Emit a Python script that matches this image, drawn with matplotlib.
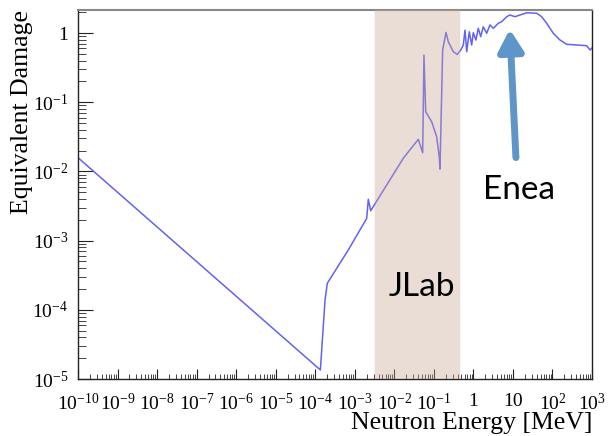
import numpy as np
import matplotlib
matplotlib.use('Agg')
import matplotlib.pyplot as plt
from matplotlib.ticker import LogLocator, FuncFormatter, NullFormatter

energy = [1e-10, 1.35e-4, 1.77e-4, 2.02e-4, 6.85e-4, 2.0e-3, 2.20e-3, 2.53e-3,
          1.69e-2, 4.05e-2, 5.22e-2, 5.62e-2, 6.22e-2, 8.81e-2, 0.118, 0.137,
          0.143, 0.167, 0.203, 0.232, 0.310, 0.392, 0.479, 0.556, 0.614, 0.678,
          0.787, 0.906, 0.993, 1.16, 1.33, 1.53, 1.78, 2.17, 2.63, 3.18, 4.27,
          5.20, 6.95, 8.43, 11.3, 15.1, 22.3, 39.9, 53.3, 71.4, 105, 155, 229,
          410, 733, 889, 1000]
damage = [1.58e-2, 1.35e-5, 1.39e-4, 2.42e-4, 7.31e-4, 2.09e-3, 3.95e-3, 2.70e-3,
          1.55e-2, 2.91e-2, 1.86e-2, 0.48, 7.29e-2, 5.22e-2, 3.17e-2, 1.63e-2,
          1.08e-2, 0.568, 1.02, 0.748, 0.537, 0.490, 0.568, 0.671, 1.10, 0.537,
          1.04, 0.671, 1.01, 0.792, 1.17, 0.885, 1.23, 0.991, 1.31, 1.17, 1.38,
          1.46, 1.72, 1.82, 1.72, 1.82, 1.96, 1.93, 1.72, 1.38, 0.991, 0.792, 0.687,
          0.671, 0.656, 0.568, 0.607]

jlab_range = (3.2e-3, 0.45)
band_labels = ['JLab', 'Enea']

serif = 'Liberation Serif'
plt.rcParams['font.family'] = serif
plt.rcParams['mathtext.fontset'] = 'custom'
plt.rcParams['mathtext.rm'] = serif
plt.rcParams['mathtext.it'] = serif + ':italic'
plt.rcParams['mathtext.default'] = 'rm'

fig = plt.figure(figsize=(6.09, 4.36), dpi=100)
ax = fig.add_axes([78 / 609, 1 - 379 / 436, 514 / 609, 369 / 436])

ax.plot(energy, damage, color='#6262f6', lw=1.1, zorder=2)
ax.set_xscale('log')
ax.set_yscale('log')
ax.set_xlim(1e-10, 1e3)
ax.set_ylim(1e-5, 2.15)

# JLab band drawn over the curve, soft edges
ax.axvspan(*jlab_range, color='#cba894', alpha=0.3, lw=0, zorder=3)
for k, a in [(1.05, 0.06), (1.1, 0.04)]:
    ax.axvspan(jlab_range[0] / k, jlab_range[1] * k, color='#cba894', alpha=a, lw=0, zorder=3)


def xfmt(v, pos):
    e = int(round(np.log10(v)))
    if e == 0:
        return '1'
    if e == 1:
        return '10'
    return r'$10^{%d}$' % e


def yfmt(v, pos):
    e = int(round(np.log10(v)))
    if e == 0:
        return '1'
    return r'$10^{%d}$' % e


ax.xaxis.set_major_locator(LogLocator(base=10, numticks=20))
ax.xaxis.set_minor_locator(LogLocator(base=10, subs=np.arange(2, 10), numticks=20))
ax.yaxis.set_major_locator(LogLocator(base=10, numticks=20))
ax.yaxis.set_minor_locator(LogLocator(base=10, subs=np.arange(2, 10), numticks=20))
ax.xaxis.set_major_formatter(FuncFormatter(xfmt))
ax.yaxis.set_major_formatter(FuncFormatter(yfmt))
ax.xaxis.set_minor_formatter(NullFormatter())
ax.yaxis.set_minor_formatter(NullFormatter())

ax.tick_params(axis='x', which='major', direction='in', length=7.5, width=0.8,
               labelsize=14, pad=10, colors='#222222')
ax.tick_params(axis='x', which='minor', direction='in', length=3.8, width=0.7, colors='#444444')
ax.tick_params(axis='y', which='major', direction='in', length=11, width=0.8,
               labelsize=14, pad=7, colors='#222222')
ax.tick_params(axis='y', which='minor', direction='in', length=5.5, width=0.7, colors='#444444')
for lab in ax.get_xticklabels() + ax.get_yticklabels():
    lab.set_color('black')

for s in ['left', 'bottom', 'right']:
    ax.spines[s].set_color('#222222')
    ax.spines[s].set_linewidth(1.0)
ax.spines['top'].set_color('#888888')
ax.spines['top'].set_linewidth(1.5)

fig.text(22 / 609, 1 - 10 / 436, 'Equivalent Damage', rotation=90, ha='center', va='top',
         fontsize=18.5, family=serif)
fig.text(592 / 609, 1 - 423 / 436, 'Neutron Energy [MeV]', ha='right', va='center',
         fontsize=18.5, family=serif)

# annotations
fig.text(422 / 609, 1 - 287 / 436, band_labels[0], fontsize=24, family='Lato',
         ha='center', va='center')
ax.annotate('', xy=(0.840, 0.948), xytext=(0.852, 0.600), xycoords='axes fraction',
            arrowprops=dict(arrowstyle='-|>,head_length=1.3,head_width=0.75',
                            color='#5f96c9', lw=5, shrinkA=0, shrinkB=0), zorder=4)
fig.text(519 / 609, 1 - 190 / 436, band_labels[1], fontsize=24, family='Lato',
         ha='center', va='center')

fig.savefig('out.png', dpi=100)
